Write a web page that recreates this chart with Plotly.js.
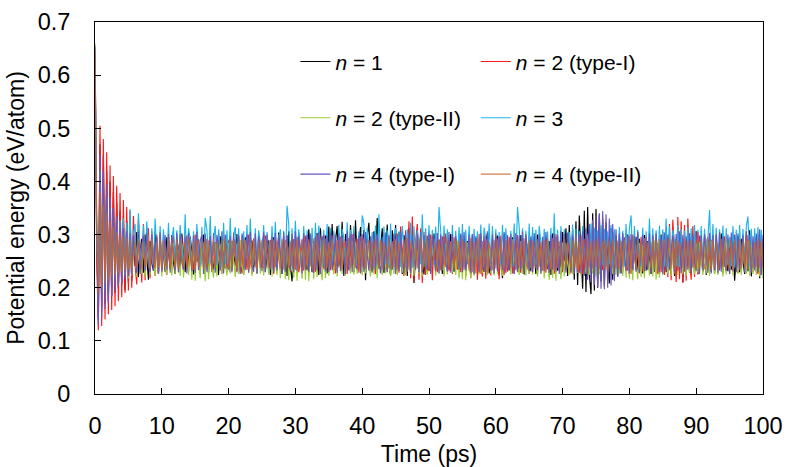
<!DOCTYPE html>
<html>
<head>
<meta charset="utf-8">
<script src="https://cdn.plot.ly/plotly-3.0.1.min.js"></script>
<style>
  html, body { margin: 0; padding: 0; background: #fff; }
  #chart { width: 788px; height: 467px; }
</style>
</head>
<body>
<div id="chart"></div>
<script>
// potential energy per atom, meV/atom, one value every 0.25 ps
const STEP_PS = 0.25;

const n1 = [650,
  300,140,470,160,450,170,420,175,400,185,380,190,360,200,345,205,330,195,325,210,
  318,212,296,241,305,220,271,292,228,300,255,215,288,246,232,305,270,226,298,243,
  281,230,295,262,236,299,248,226,290,273,233,302,257,229,287,240,296,268,225,284,
  249,291,231,276,300,238,262,227,293,252,234,286,271,224,297,245,281,236,290,259,
  230,288,266,241,301,229,279,250,225,295,260,234,283,289,238,255,227,298,246,272,
  300,231,262,289,224,274,295,244,236,304,253,226,285,268,222,306,240,212,291,257,
  236,301,268,227,296,250,233,310,261,229,288,245,303,224,312,255,237,298,227,315,
  248,320,233,289,316,241,262,324,222,301,268,235,318,252,229,327,246,276,314,230,
  309,214,296,322,247,231,306,268,331,236,279,312,228,258,319,241,224,308,263,318,
  232,305,257,226,299,274,222,312,245,296,209,262,291,234,300,249,225,297,271,232,
  289,228,302,255,233,290,266,226,298,242,287,235,301,259,230,293,247,236,299,229,
  272,231,288,250,225,300,234,294,261,228,297,244,230,286,303,227,259,291,232,283,
  298,224,265,218,301,241,287,233,256,295,227,290,246,230,299,264,225,293,239,288,
  231,297,253,226,300,270,233,289,243,294,235,288,224,302,258,296,232,279,226,305,
  250,312,222,318,236,310,215,325,205,336,251,198,345,192,352,226,188,340,195,348,
  200,338,212,330,203,322,248,208,312,215,305,262,222,298,228,293,251,231,300,226,
  290,233,266,296,229,292,246,227,299,232,288,257,226,295,230,289,271,225,300,234,
  291,229,296,248,227,303,222,292,265,230,298,211,289,244,300,228,294,258,233,306,
  226,291,266,231,297,224,290,247,230,299,226,293,258,233,302,228,288,251,231,294,
  234,300,213,263,297,229,292,249,226,301,231,308,221,276,295,230,299,218,290,233];

const n2a = [640,
  260,120,505,128,480,140,455,150,430,158,410,165,392,175,378,182,365,190,352,195,
  345,200,335,243,206,328,262,210,320,214,290,312,218,306,255,222,300,226,296,229,
  302,241,224,295,266,231,298,250,287,229,274,296,232,258,299,228,285,246,234,300,
  255,289,231,295,268,226,292,243,298,229,287,261,233,300,249,227,296,272,230,288,
  294,232,264,291,229,297,245,227,289,276,234,300,252,226,292,268,231,296,240,287,
  228,298,258,233,290,271,226,294,246,301,235,285,262,229,299,244,231,289,265,234,
  296,229,251,290,232,298,267,227,292,240,287,230,300,256,226,297,245,231,289,275,
  233,299,260,227,290,248,296,232,271,288,226,294,257,301,231,262,292,228,297,250,
  295,233,268,289,228,298,243,226,300,272,287,229,296,252,230,291,265,235,299,230,
  302,228,315,262,222,308,230,325,218,334,212,288,320,215,312,209,305,224,298,231,
  300,214,294,256,229,290,233,297,227,302,266,231,288,226,295,249,234,291,229,298,
  296,222,270,290,218,299,225,292,215,301,244,221,288,217,295,265,223,291,226,297,
  290,216,298,251,224,292,230,296,268,227,289,233,299,245,228,294,231,300,262,226,
  293,230,257,299,227,290,269,232,296,228,288,250,234,294,226,301,262,231,292,229,
  297,233,266,290,227,295,232,291,248,228,298,226,292,234,300,259,229,287,231,296,
  227,294,253,233,290,264,229,297,226,291,231,299,248,234,288,228,295,270,232,298,
  226,300,257,232,291,227,296,230,293,262,234,289,228,297,231,302,226,294,229,305,
  224,312,220,320,214,328,262,211,333,216,325,209,318,213,330,252,215,316,220,306,
  225,298,262,229,292,231,296,228,290,270,233,299,227,288,246,234,297,229,291,226,
  295,232,300,255,228,289,231,294,267,227,299,233,290,229,296,248,226,298,224,291];

const n2b = [660,
  330,180,400,190,370,200,350,208,330,214,318,218,305,221,298,220,294,224,290,218,
  286,223,264,291,220,284,246,226,289,219,270,283,224,288,251,222,285,227,290,221,
  282,240,225,287,262,223,284,226,289,248,222,283,219,288,265,224,282,215,286,213,
  284,249,218,289,266,212,283,216,287,241,219,285,221,268,282,225,289,246,223,284,
  227,287,256,220,283,226,290,243,224,285,271,228,282,222,288,250,226,284,227,286,
  223,289,261,225,283,221,287,246,224,282,218,288,267,216,284,214,289,238,219,283,
  213,286,254,217,282,215,288,212,284,262,216,289,220,283,239,214,287,218,285,222,
  282,249,225,288,221,284,268,226,289,223,283,245,227,288,224,285,226,282,262,223,
  289,227,284,246,221,287,225,283,218,288,266,224,284,227,289,241,222,283,226,287,
  224,285,262,228,282,223,288,247,226,284,222,289,270,226,283,222,287,245,225,289,
  226,283,257,223,287,227,285,248,221,282,225,288,264,228,284,224,289,218,282,216,
  289,214,285,244,219,283,222,288,266,225,284,228,287,246,224,282,227,289,223,285,
  226,283,255,222,288,227,284,262,225,290,228,283,243,224,288,226,285,223,282,227,
  287,225,289,260,221,284,226,288,218,283,249,215,287,219,282,213,288,266,216,285,
  221,283,245,224,289,226,284,268,228,287,223,282,252,226,288,224,285,227,283,222,
  289,225,284,263,228,286,223,282,247,226,288,224,284,227,289,222,283,219,286,217,
  282,214,288,258,216,284,220,287,218,283,266,223,285,221,289,215,284,219,287,224,
  283,248,226,288,222,284,227,289,224,283,265,226,287,222,284,228,288,245,225,283,
  228,286,258,224,289,227,285,222,288,265,226,284,224,287,250,221,285,225,282,228,
  289,223,266,284,226,287,224,283,248,227,288,223,285,226,289,224,282,221,287,218];

const n3 = [655,
  330,170,420,185,390,195,370,205,350,212,338,220,332,224,326,228,330,232,322,234,
  348,236,301,320,232,340,268,238,318,235,325,279,240,312,237,330,262,242,316,238,
  310,262,241,322,244,289,314,239,308,243,318,272,240,338,236,312,293,244,306,239,
  320,270,242,314,237,331,309,245,335,240,292,316,242,310,267,238,322,244,308,240,
  331,237,298,314,243,312,239,280,306,242,318,236,330,255,243,312,240,308,285,244,
  318,238,305,266,241,316,245,324,239,290,310,242,307,237,354,319,244,312,240,326,
  241,310,276,238,316,244,308,262,240,313,236,322,243,317,288,239,309,245,320,241,
  312,238,307,270,243,318,240,311,292,237,323,244,309,239,316,258,242,306,240,336,
  320,236,312,273,243,305,239,317,242,338,261,238,315,244,308,241,321,237,296,312,
  243,306,239,316,268,240,310,245,322,238,316,241,308,285,244,338,239,312,242,318,
  237,309,243,315,240,352,306,238,317,244,310,268,241,318,237,307,243,314,240,320,
  238,309,244,316,262,239,311,242,306,237,319,243,313,290,240,321,244,316,238,310,
  241,305,243,318,239,312,267,245,307,240,321,237,352,314,243,312,245,307,240,321,
  237,314,243,309,242,316,285,238,311,244,306,240,313,242,340,237,309,243,316,239,
  310,241,265,305,244,319,240,312,242,307,238,316,244,310,290,240,321,237,313,242,
  308,239,317,243,311,240,306,244,318,240,310,262,243,314,238,307,241,320,244,312,
  336,239,316,242,309,270,240,313,237,306,243,330,240,312,242,308,237,317,244,310,
  240,330,238,315,243,309,288,241,318,239,311,244,307,240,315,243,312,238,318,241,
  309,244,316,239,311,242,306,346,240,320,237,313,243,310,241,317,239,312,244,296,
  240,316,238,309,243,318,241,311,244,316,334,240,311,237,312,243,314,240,309,242];

const n4a = [645,
  290,130,450,145,420,160,395,172,370,185,350,195,335,203,322,210,312,216,306,221,
  302,225,299,262,228,305,226,283,298,231,303,244,229,300,233,271,296,227,304,230,
  256,299,234,301,228,297,270,232,304,229,300,248,234,296,227,303,265,231,298,228,
  305,233,288,299,226,302,230,259,297,235,303,228,299,274,232,306,227,300,245,234,
  297,229,304,262,231,298,226,302,281,233,300,228,305,240,230,302,227,297,268,231,
  305,229,300,252,234,296,228,303,232,299,264,226,304,230,298,246,233,301,229,306,
  232,297,266,227,303,234,299,230,302,251,228,296,233,305,226,287,300,231,298,229,
  304,233,255,299,228,302,231,297,266,226,306,232,300,229,303,244,234,298,227,301,
  230,305,262,232,297,228,303,233,300,249,227,296,231,304,229,299,270,234,302,226,
  298,232,306,253,228,300,231,303,227,297,266,234,301,229,305,228,299,246,233,302,
  226,298,270,231,303,227,300,233,296,249,230,305,228,301,232,297,262,234,302,229,
  305,233,258,299,228,301,226,297,273,230,303,234,298,229,306,245,232,300,227,302,
  231,296,264,233,305,228,299,232,301,250,226,303,229,298,234,306,227,300,268,231,
  297,229,303,247,233,300,227,296,231,305,262,228,299,234,302,230,298,226,306,232,
  301,228,304,258,230,298,226,303,229,300,227,306,222,312,215,320,210,328,205,336,
  201,340,198,344,197,338,200,330,204,320,212,310,220,302,226,303,262,232,298,227,
  301,233,297,230,305,228,270,300,231,296,234,303,227,299,232,302,248,229,297,226,
  304,231,300,233,266,298,228,301,232,306,227,299,230,297,234,303,228,300,251,231,
  305,226,298,233,301,264,228,303,227,299,233,301,228,305,230,297,245,232,300,226,
  304,231,298,229,302,233,264,299,228,306,231,300,228,297,233,302,229,310,224,299];

const n4b = [655,
  320,190,380,200,355,208,340,214,325,220,315,224,305,228,300,230,296,233,293,235,
  291,236,268,288,238,292,251,235,287,239,276,290,234,293,259,237,286,238,291,236,
  289,248,239,292,234,287,266,238,291,235,289,256,239,286,236,292,273,237,288,234,
  290,240,262,287,236,293,238,289,251,235,291,237,286,270,239,290,234,293,246,238,
  288,236,291,258,235,287,240,292,237,290,271,234,286,239,293,250,235,288,237,290,
  236,293,263,238,287,235,291,239,288,254,236,292,234,290,277,237,286,239,291,235,
  290,234,268,292,237,286,239,291,249,234,293,236,288,264,238,290,235,292,237,286,
  239,291,257,234,289,238,293,235,287,272,239,290,236,288,246,237,292,234,286,238,
  291,236,269,289,239,287,235,293,252,238,290,234,286,265,237,292,236,288,239,291,
  235,287,258,239,291,237,294,234,288,270,238,292,236,286,297,233,290,237,288,235,
  292,238,262,286,236,291,234,289,250,239,293,237,287,273,235,290,238,288,236,292,
  234,286,261,232,293,229,287,227,291,254,226,288,230,292,228,286,268,233,290,236,
  289,237,288,248,234,291,238,286,236,292,265,235,289,239,287,237,293,252,234,290,
  238,288,268,236,291,239,286,234,290,236,293,255,238,288,234,291,237,287,271,235,
  292,239,286,258,236,289,239,293,235,288,237,290,266,234,292,238,286,236,289,239,
  293,235,266,288,237,291,234,287,238,292,249,236,289,235,286,239,290,272,237,293,
  234,288,255,238,291,236,287,235,293,239,286,268,237,292,236,288,234,291,238,287,
  290,239,262,292,236,288,234,291,238,286,270,237,293,234,288,236,290,238,287,236,
  291,237,289,252,235,292,237,288,234,290,238,286,266,234,292,239,289,235,291,237,
  288,234,290,260,238,292,236,287,239,291,235,289,248,237,286,239,292,237,288,236];

const seriesNames = ['<i>n</i> = 1', '<i>n</i> = 2 (type-I)', '<i>n</i> = 2 (type-II)',
  '<i>n</i> = 3', '<i>n</i> = 4 (type-I)', '<i>n</i> = 4 (type-II)'];
const seriesValues = [n1, n2a, n2b, n3, n4a, n4b];
const seriesColors = ['#000000', '#ff1a1a', '#9acd32', '#1eb4ea', '#6a55c0', '#c8652a'];
const seriesOpacity = [1, 1, 1, 1, 1, 0.85];
// left legend column holds 1, 2-II, 4-I; right column 2-I, 3, 4-II
const legendOf = ['legend', 'legend2', 'legend', 'legend2', 'legend', 'legend2'];

const traces = seriesValues.map((vals, k) => ({
  x: vals.map((v, i) => i * STEP_PS),
  y: vals.map(v => v / 1000),
  type: 'scatter',
  mode: 'lines',
  name: seriesNames[k],
  legend: legendOf[k],
  legendgroup: 'g' + k,
  opacity: seriesOpacity[k],
  line: { color: seriesColors[k], width: 1.15 },
  hoverinfo: 'skip'
}));

const family = 'Liberation Sans, Arial, sans-serif';
const tickFont = { family: family, size: 23.5, color: '#000' };
const titleFont = { family: family, size: 23, color: '#000' };

const legendBase = {
  bgcolor: 'rgba(0,0,0,0)',
  font: { family: family, size: 21, color: '#000' },
  traceorder: 'grouped',
  tracegroupgap: 26,
  yanchor: 'top',
  y: 0.948
};

const layout = {
  width: 788,
  height: 467,
  margin: { l: 95, r: 25, t: 22, b: 73 },
  paper_bgcolor: '#fff',
  plot_bgcolor: '#fff',
  font: tickFont,
  showlegend: true,
  legend: Object.assign({}, legendBase, { x: 0.30, xanchor: 'left' }),
  legend2: Object.assign({}, legendBase, { x: 0.57, xanchor: 'left' }),
  xaxis: {
    range: [0, 100],
    dtick: 10,
    ticks: 'inside',
    ticklen: 6,
    tickcolor: '#000',
    tickfont: tickFont,
    showline: true,
    mirror: true,
    linecolor: '#000',
    linewidth: 1,
    showgrid: false,
    zeroline: false,
    ticklabelstandoff: 11,
    title: { text: 'Time (ps)', font: titleFont, standoff: 8 }
  },
  yaxis: {
    range: [0, 0.7],
    dtick: 0.1,
    ticks: 'inside',
    ticklen: 6,
    tickcolor: '#000',
    tickfont: tickFont,
    showline: true,
    mirror: true,
    linecolor: '#000',
    linewidth: 1,
    showgrid: false,
    zeroline: false,
    ticklabelstandoff: 19,
    title: { text: 'Potential energy (eV/atom)', font: titleFont, standoff: 6 }
  }
};

Plotly.newPlot('chart', traces, layout, { staticPlot: true, displayModeBar: false });
</script>
</body>
</html>
